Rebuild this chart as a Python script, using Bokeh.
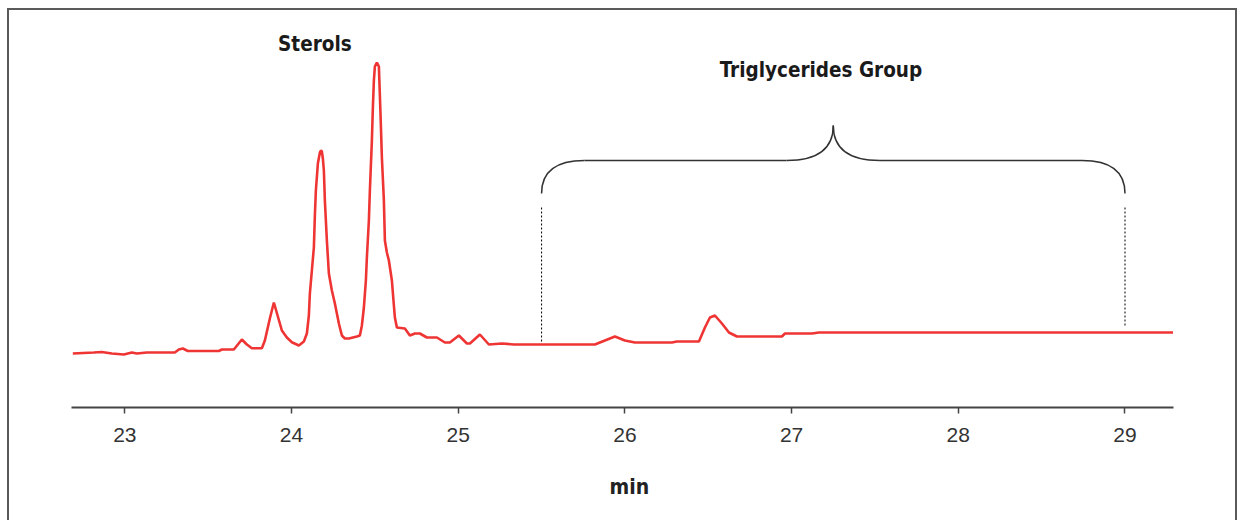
from bokeh.plotting import figure
from bokeh.models import Range1d, Label, FixedTicker, Title
from bokeh.embed import file_html
from bokeh.resources import INLINE

# Retention time (min) and detector signal (arbitrary units)
time_min = [22.688, 22.814, 22.862, 22.922, 22.994, 23.042, 23.072, 23.132, 23.300, 23.324,
            23.348, 23.378, 23.564, 23.582, 23.654, 23.678, 23.702, 23.732, 23.762, 23.822,
            23.840, 23.870, 23.894, 23.918, 23.942, 23.972, 24.002, 24.044, 24.074, 24.092,
            24.104, 24.110, 24.122, 24.134, 24.140, 24.146, 24.158, 24.170, 24.176, 24.182,
            24.188, 24.194, 24.200, 24.212, 24.224, 24.242, 24.260, 24.284, 24.302, 24.320,
            24.344, 24.392, 24.410, 24.422, 24.434, 24.446, 24.452, 24.464, 24.470, 24.482,
            24.488, 24.494, 24.500, 24.512, 24.524, 24.530, 24.536, 24.542, 24.554, 24.560,
            24.572, 24.584, 24.602, 24.614, 24.620, 24.632, 24.680, 24.710, 24.740, 24.770,
            24.812, 24.872, 24.920, 24.950, 25.004, 25.052, 25.070, 25.130, 25.184, 25.262,
            25.334, 25.502, 25.820, 25.880, 25.940, 26.000, 26.060, 26.282, 26.312, 26.444,
            26.480, 26.510, 26.540, 26.582, 26.624, 26.672, 26.942, 26.960, 27.122, 27.164,
            29.288]
signal = [54, 55, 55.5, 54, 53, 55, 54, 55, 55, 58,
          59, 56.5, 56.5, 58, 58, 63, 68, 63, 59.3, 59.3,
          67, 89, 105, 91, 77, 70, 65.3, 62, 66, 74,
          92, 114, 137, 160, 192, 217, 244, 255, 257, 256,
          249, 237, 207, 167, 134, 117, 104, 84, 72, 69,
          69, 71, 72, 82, 100, 127, 150, 187, 217, 267,
          300, 327, 341, 345, 341, 312, 282, 250, 207, 167,
          155, 147, 127, 102, 90, 80, 79, 72, 74, 74,
          70, 70, 65, 65, 72, 64, 64, 73, 63, 64,
          63, 63, 63, 67, 71, 67, 65, 65, 66, 66,
          80, 90, 92, 84, 75, 71, 71, 74, 74, 75,
          75]

tick_values = [23, 24, 25, 26, 27, 28, 29]
x_label = "min"
sterols_label = "Sterols"
group_label = "Triglycerides Group"
group_start = 25.5
group_end = 29.0

RED = "#ef3434"
DARK = "#333333"
NARROW = "DejaVu Sans Condensed, Liberation Sans"

p = figure(width=1230, height=512,
           x_range=Range1d(22.68, 29.291), y_range=Range1d(0, 397),
           output_backend="svg", toolbar_location=None,
           min_border_left=62, min_border_right=66, min_border_top=0, min_border_bottom=115,
           background_fill_color="white", border_fill_color="white",
           styles={"margin-left": "7px", "margin-top": "8px",
                   "border-left": "2px solid #5a5a5a", "border-top": "2px solid #5a5a5a",
                   "border-right": "2px solid #5a5a5a"})
p.outline_line_color = None
p.grid.visible = False
p.yaxis.visible = False

ax = p.xaxis[0]
ax.ticker = FixedTicker(ticks=tick_values)
ax.axis_line_color = "#444444"
ax.axis_line_width = 2
ax.major_tick_line_color = "#444444"
ax.major_tick_line_width = 1.5
ax.major_tick_out = 6
ax.major_tick_in = 0
ax.minor_tick_line_color = None
ax.major_label_text_font = "Liberation Sans"
ax.major_label_text_font_size = "21px"
ax.major_label_text_color = DARK
ax.major_label_standoff = 14

# spacer between tick labels and the x-axis title
p.add_layout(Title(text=" ", text_font_size="10px"), "below")
# x-axis title below the axis, slightly right of centre as in the original
p.add_layout(Title(text=x_label, align="left", offset=538,
                   text_font=NARROW, text_font_style="bold", text_font_size="21px",
                   text_color="#222222"), "below")

# chromatogram trace
p.line(time_min, signal, line_color=RED, line_width=2.6)

# dotted group boundaries
p.segment(x0=[group_start, group_end], y0=[200, 200], x1=[group_start, group_end], y1=[64, 80],
          line_color="#000000", line_width=1, line_dash="2 2")

# curly brace over the triglyceride group
mid = (group_start + group_end) / 2
corner_dx, cusp_dx = 0.258, 0.28
y_end, y_flat, y_tip = 214, 247, 282
p.quadratic(x0=[group_start, mid - cusp_dx, mid + cusp_dx, group_end - corner_dx],
            y0=[y_end, y_flat, y_flat, y_flat],
            x1=[group_start + corner_dx, mid, mid, group_end],
            y1=[y_flat, y_tip, y_tip, y_end],
            cx=[group_start, mid, mid, group_end],
            cy=[y_flat, y_flat, y_flat, y_flat],
            line_color=DARK, line_width=1.5)
p.segment(x0=[group_start + corner_dx, mid + cusp_dx], y0=[y_flat, y_flat],
          x1=[mid - cusp_dx, group_end - corner_dx], y1=[y_flat, y_flat],
          line_color=DARK, line_width=1.5)

p.add_layout(Label(x=24.14, y=364, text=sterols_label, text_align="center", text_baseline="middle",
                   text_font=NARROW, text_font_style="bold", text_font_size="20.5px", text_color="#1a1a1a"))
p.add_layout(Label(x=27.176, y=338, text=group_label, text_align="center", text_baseline="middle",
                   text_font=NARROW, text_font_style="bold", text_font_size="20.5px", text_color="#1a1a1a"))

open("out.html", "w").write(file_html(p, INLINE))
